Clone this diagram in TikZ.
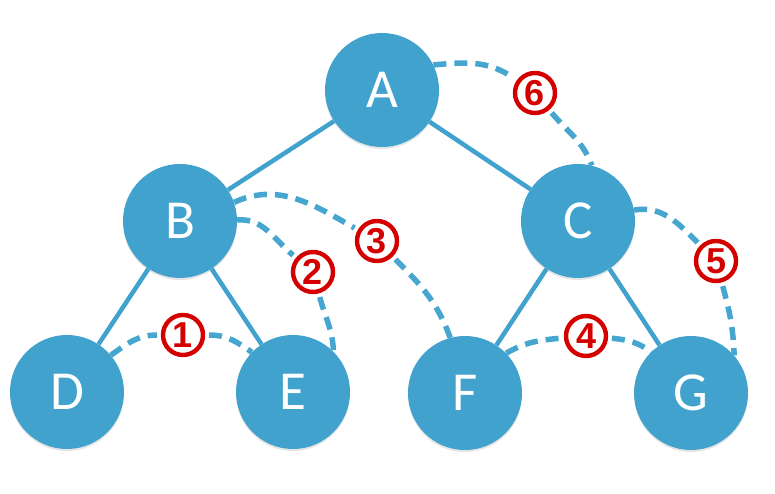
\documentclass[tikz,border=0pt]{standalone}
\usepackage{fontspec}
\setmainfont{Carlito}
\newfontfamily\numfont{Liberation Sans}
\usetikzlibrary{shadows}
\definecolor{nodeblue}{RGB}{64,162,205}
\definecolor{dashblue}{RGB}{70,166,208}
\definecolor{labred}{RGB}{212,0,0}
\begin{document}
\begin{tikzpicture}[x=1pt,y=1pt,
  vert/.style={circle, fill=nodeblue, minimum size=114pt, inner sep=0pt, text=white,
    font=\fontsize{55}{60}\selectfont,
    drop shadow={shadow xshift=0pt, shadow yshift=-2pt, opacity=0.2}},
  tree/.style={draw=nodeblue, line width=4.5pt},
  order/.style={draw=dashblue, line width=5.5pt, dash pattern=on 13pt off 8pt},
  lab/.style={circle, draw=labred, line width=4.4pt, fill=white, minimum size=40pt,
    inner sep=0pt, outer sep=6pt, text=labred,
    font=\numfont\bfseries\fontsize{36}{36}\selectfont}]
\fill[white] (0,0) rectangle (775,494);
\useasboundingbox (0,0) rectangle (775,494);

\node[vert] (A) at (382,404) {A};
\node[vert] (B) at (180,273) {B};
\node[vert] (C) at (578,273) {C};
\node[vert] (D) at (67,102) {D};
\node[vert] (E) at (293,102) {E};
\node[vert] (F) at (465,101) {F};
\node[vert] (G) at (691,101) {G};

\draw[tree] (A) -- (B);
\draw[tree] (A) -- (C);
\draw[tree] (B) -- (D);
\draw[tree] (B) -- (E);
\draw[tree] (C) -- (F);
\draw[tree] (C) -- (G);

\node[lab] (L1) at (183,159) {1};
\node[lab] (L2) at (313,222) {2};
\node[lab] (L3) at (377,253) {3};
\node[lab] (L4) at (586,158) {4};
\node[lab] (L5) at (716,233) {5};
\node[lab] (L6) at (535,401) {6};

\draw[order] (D.40) to[out=35, in=180] (L1) to[out=0, in=145] (E.136);
\draw[order] (B.1) to[out=5, in=140] (L2) to[out=-75, in=92] (E.45);
\draw[order] (B.19) to[out=25, in=150] (L3) to[out=-45, in=110] (F.105);
\draw[order] (F.44) to[out=30, in=185] (L4) to[out=-5, in=145] (G.134);
\draw[order] (C.11) to[out=10, in=135] (L5) to[out=-75, in=92] (G.41);
\draw[order] (A.26) to[out=5, in=145] (L6) to[out=-50, in=110] (C.76);
\end{tikzpicture}
\end{document}
